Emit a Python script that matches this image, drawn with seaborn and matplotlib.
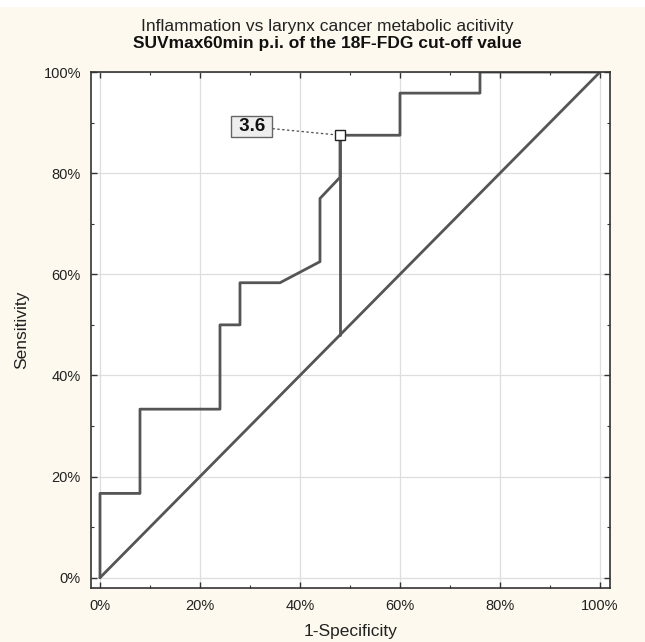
import matplotlib
matplotlib.use("Agg")
import matplotlib.pyplot as plt
import matplotlib.patches as mpatches
from matplotlib.ticker import MultipleLocator, PercentFormatter
import seaborn as sns
import pandas as pd

# ROC curve points (1-Specificity, Sensitivity), in %
fpr = [0, 0, 8, 8, 24, 24, 28, 28, 36, 44, 44, 48, 48, 60, 60, 76, 76, 100]
tpr = [0, 16.67, 16.67, 33.33, 33.33, 50, 50, 58.33, 58.33, 62.5, 75, 79.17,
       87.5, 87.5, 95.83, 95.83, 100, 100]

# reference diagonal and cut-off marker
diag_x = [0, 100]
diag_y = [0, 100]
cut_x = [48, 48]
cut_y = [48, 87.5]
cut_point = (48, 87.5)
cut_label = "3.6"

title1 = "Inflammation vs larynx cancer metabolic acitivity"
title2 = "SUVmax60min p.i. of the 18F-FDG cut-off value"

sns.set_theme(style="ticks")
plt.rcParams['font.family'] = ['Liberation Sans', 'DejaVu Sans']

cream = "#fdf9ee"
line_col = "#555555"

fig = plt.figure(figsize=(6.45, 6.42), dpi=100, facecolor="white")
fig.patches.append(mpatches.Rectangle((0, 0), 1, 1 - 7 / 642, transform=fig.transFigure,
                                      facecolor=cream, edgecolor="none", zorder=-1))
ax = fig.add_axes([0.1406, 0.0841, 0.8051, 0.8037])
ax.set_facecolor("white")

roc = pd.DataFrame({"x": fpr, "y": tpr})
sns.lineplot(data=roc, x="x", y="y", sort=False, estimator=None, color=line_col, lw=2, ax=ax)
sns.lineplot(x=diag_x, y=diag_y, sort=False, estimator=None, color=line_col, lw=2, ax=ax)
sns.lineplot(x=cut_x, y=cut_y, sort=False, estimator=None, color=line_col, lw=2, ax=ax)

ax.plot([cut_point[0]], [cut_point[1]], marker="s", ms=6.5, mfc="white",
        mec="#222222", mew=1.0, zorder=5)
ax.annotate(" " + cut_label + " ", xy=cut_point, xytext=(30.4, 89.2),
            ha="center", va="center", fontsize=13.5, fontweight="bold", color="#111111",
            bbox=dict(boxstyle="square,pad=0.12", fc="#eeeeee", ec="#666666", lw=1),
            arrowprops=dict(arrowstyle="-", ls=(0, (1, 2.5)), color="#555555", lw=1,
                            shrinkA=0, shrinkB=3))

ax.set_xlim(-1.86, 102)
ax.set_ylim(-2.04, 100)
ax.xaxis.set_major_locator(MultipleLocator(20))
ax.yaxis.set_major_locator(MultipleLocator(20))
ax.xaxis.set_minor_locator(MultipleLocator(10))
ax.yaxis.set_minor_locator(MultipleLocator(10))
ax.xaxis.set_major_formatter(PercentFormatter(decimals=0))
ax.yaxis.set_major_formatter(PercentFormatter(decimals=0))
ax.grid(True, which="major", color="#dedede", lw=0.9)
ax.tick_params(which="both", direction="in", top=True, right=True, color="#333333",
               labelsize=10.5, labelcolor="#222222")
ax.tick_params(which="major", length=4, width=1)
ax.tick_params(which="minor", length=2.5, width=0.8)
ax.tick_params(axis="x", pad=8)
ax.tick_params(axis="y", pad=7)
for s in ax.spines.values():
    s.set_color("#333333")
    s.set_linewidth(1.2)

ax.set_xlabel("1-Specificity", fontsize=12.5, color="#222222", labelpad=8)
ax.set_ylabel("Sensitivity", fontsize=12.5, color="#222222", labelpad=10)

# titles sit a bit left of the axes centre, as in the reference
cx = 0.507
fig.text(cx, 0.9515, title1, ha="center", va="baseline", fontsize=12.5, color="#222222")
fig.text(cx, 0.9255, title2, ha="center", va="baseline", fontsize=12.5, fontweight="bold",
         color="#111111")

fig.savefig("out.png", dpi=100, facecolor=fig.get_facecolor())
